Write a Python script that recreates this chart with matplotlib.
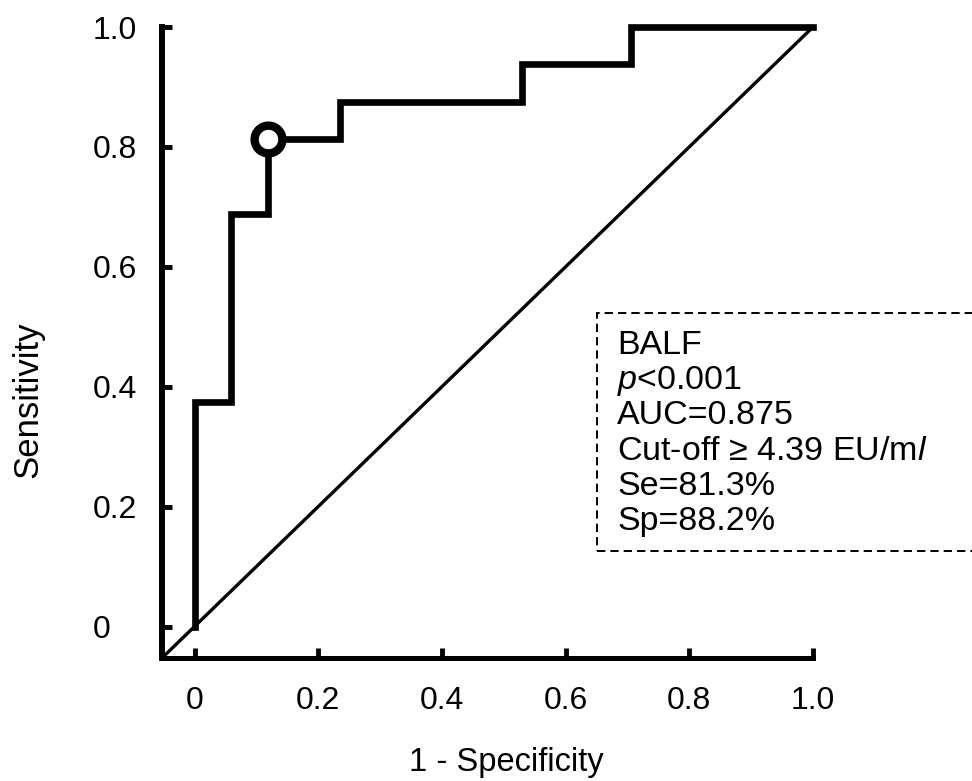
import matplotlib
matplotlib.use("Agg")
import matplotlib.pyplot as plt
from matplotlib.patches import Rectangle

plt.rcParams['font.family'] = ['Liberation Sans', 'DejaVu Sans']
plt.rcParams['mathtext.fontset'] = 'custom'
plt.rcParams['mathtext.it'] = 'Liberation Sans:italic'
plt.rcParams['mathtext.rm'] = 'Liberation Sans'
plt.rcParams['lines.scale_dashes'] = False

# ROC step curve (1 - specificity, sensitivity)
fpr = [0.0, 0.0, 0.059, 0.118, 0.235, 0.529, 0.706, 1.0]
tpr = [0.0, 0.375, 0.6875, 0.8125, 0.875, 0.9375, 1.0, 1.0]
cutoff_fpr = [0.118]
cutoff_tpr = [0.8125]

ticks = [0.0, 0.2, 0.4, 0.6, 0.8, 1.0]
tick_labels = ['0', '0.2', '0.4', '0.6', '0.8', '1.0']
xlim = (-0.053, 1.0)
ylim = (-0.052, 1.0)

info_lines = ['BALF', r'$\it{p}$<0.001', 'AUC=0.875',
              'Cut-off \u2265 4.39 EU/m$\\it{l}$', 'Se=81.3%', 'Sp=88.2%']

W, H = 972, 781
fig = plt.figure(figsize=(W / 100, H / 100), dpi=100)
ax = fig.add_axes([162 / W, 1 - 658 / H, (813 - 162) / W, (658 - 27) / H])
ax.set_xlim(*xlim)
ax.set_ylim(*ylim)

# chance line from axes corner to (1, 1)
ax.plot([xlim[0], 1.0], [ylim[0], 1.0], color='black', lw=2.4,
        clip_on=False, solid_capstyle='butt')
ax.step(fpr, tpr, where='post', color='black', lw=4.8, clip_on=False,
        solid_joinstyle='miter', solid_capstyle='projecting')
ax.plot(cutoff_fpr, cutoff_tpr, 'o', ms=20, mew=6, mfc='white', mec='black',
        clip_on=False, zorder=5)

for s in ['top', 'right']:
    ax.spines[s].set_visible(False)
ax.spines['left'].set_linewidth(4.3)
ax.spines['bottom'].set_linewidth(3.6)
ax.spines['left'].set_bounds(ylim[0], 1.0)
ax.spines['bottom'].set_bounds(xlim[0], 1.0)
ax.spines['left'].set_capstyle('projecting')
ax.spines['bottom'].set_capstyle('projecting')

ax.set_xticks(ticks)
ax.set_xticklabels(tick_labels)
ax.set_yticks(ticks)
ax.set_yticklabels(tick_labels)
ax.tick_params(axis='both', direction='in', length=7, width=3.5,
               labelsize=23, color='black')
ax.tick_params(axis='x', pad=20)
ax.tick_params(axis='y', pad=50)
for lab in ax.get_yticklabels():
    lab.set_horizontalalignment('left')

ax.set_xlabel('1 - Specificity', fontsize=23.5)
ax.set_ylabel('Sensitivity', fontsize=25)
ax.xaxis.set_label_coords((506 - 162) / (813 - 162), -(747 - 658) / (658 - 27))
ax.yaxis.set_label_coords(-(162 - 44) / (813 - 162), (658 - 400) / (658 - 27))

# dashed info box
rect = Rectangle((597 / W, 1 - 551 / H), (985 - 597) / W, (551 - 313) / H,
                 transform=fig.transFigure, fill=False, edgecolor='black',
                 lw=1.4, linestyle=(0, (6, 3.6)), clip_on=False)
fig.patches.append(rect)
y0 = 354
dy = 35.2
for i, t in enumerate(info_lines):
    fig.text(617 / W, 1 - (y0 + i * dy) / H, t, fontsize=24.5,
             ha='left', va='baseline')

fig.savefig('out.png', dpi=100)
